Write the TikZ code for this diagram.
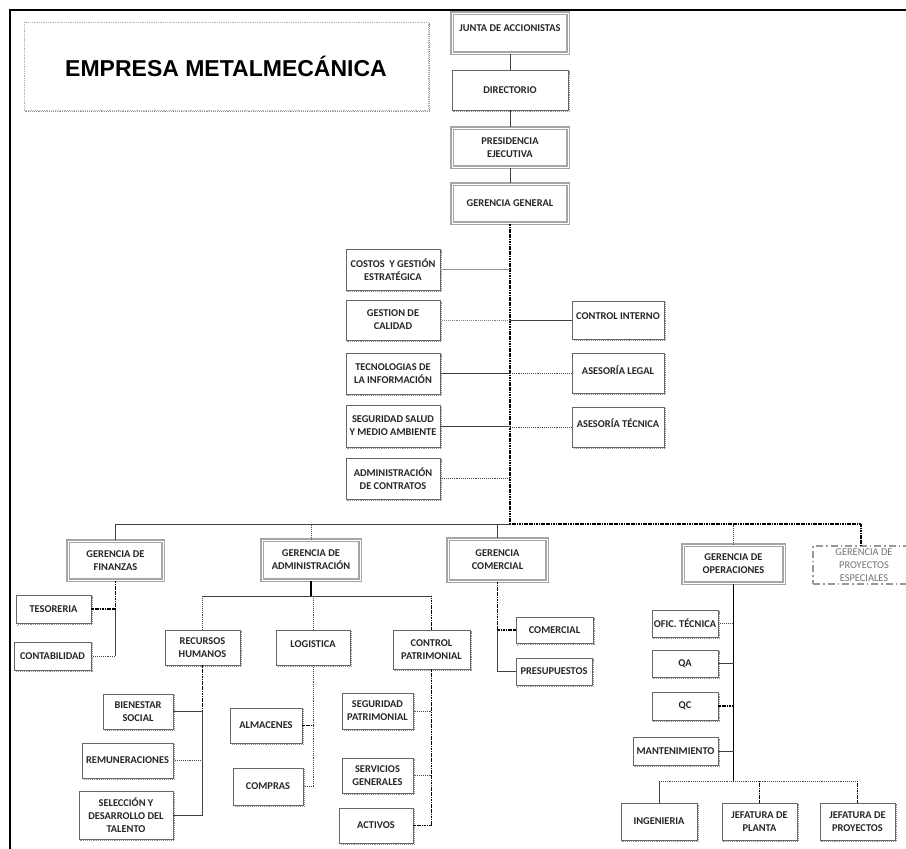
\documentclass[tikz,border=0pt]{standalone}
\usepackage{fontspec}
\setmainfont{Carlito}
\newfontfamily\titlefont{Liberation Sans}
\usetikzlibrary{shadows}
\newcommand\bx[8][]{\node[#2,minimum width={(#6-#4)*1pt},minimum height={(#7-#5)*1pt},#1] (#3) at ({(#4+#6)/2},{(#5+#7)/2}) {#8};}
\newcommand\up[2]{\raisebox{#1}[\height][\depth]{#2}}
\tikzset{
  shd/.style={copy shadow={shadow xshift=1.8pt, shadow yshift=-1.8pt, draw=gray!85, densely dotted, line width=1.1pt, fill=white}},
  nb/.style={shd, draw=black!60, line width=0.7pt, fill=white, align=center, inner sep=0pt, text=black!85,
     font=\fontsize{10.4}{13}\selectfont\bfseries},
  mb/.style={nb, draw=gray!70, line width=1.1pt, double=white, double distance=1pt},
  sl/.style={draw=black!75, line width=0.8pt},
  dl/.style={draw=black!70, line width=0.9pt, densely dotted},
  tk/.style={draw=black, line width=1.5pt, dash pattern=on 1.2pt off 0.5pt},
  bold/.style={draw=black, line width=1.7pt},
}
\begin{document}
\begin{tikzpicture}[x=1pt,y=-1pt]
\useasboundingbox (0,0) rectangle (906,849);
% frame
\draw[line width=2pt] (10,849) -- (10,10) -- (906,10);
% title
\node[shd, draw=gray!60, line width=0.8pt, densely dotted, fill=white, minimum width=404pt, minimum height=88pt,
  font=\titlefont\fontsize{23}{26}\selectfont\bfseries] (title) at (226,66) {EMPRESA METALMECÁNICA};
% top chain
\bx{mb}{ja}{452}{13}{568}{53}{\up{5pt}{JUNTA DE ACCIONISTAS}}
\bx{nb}{di}{452}{70}{568}{110}{DIRECTORIO}
\bx{mb}{pe}{452}{128}{568}{167}{PRESIDENCIA\\EJECUTIVA}
\bx{mb}{gg}{452}{184}{568}{223}{GERENCIA GENERAL}
\draw[sl] (ja.south) -- (di.north);
\draw[sl] (di.south) -- (pe.north);
\draw[sl] (pe.south) -- (gg.north);
\coordinate (bar) at (0,524);
\draw[tk] (gg.south) -- (gg.south |- bar);
% staff left
\bx{nb}{cos}{346}{249}{440}{290}{COSTOS\ \ Y GESTIÓN\\ESTRATÉGICA}
\bx{nb}{cal}{346}{300}{440}{340}{GESTION DE\\CALIDAD}
\bx{nb}{tec}{346}{353}{440}{394}{TECNOLOGIAS DE\\LA INFORMACIÓN}
\bx{nb}{ssm}{346}{405}{440}{447}{SEGURIDAD SALUD\\Y MEDIO AMBIENTE}
\bx{nb}{ac}{346}{458}{440}{499}{ADMINISTRACIÓN\\DE CONTRATOS}
\draw[sl, draw=gray!80] (cos.east) -- (cos.east -| gg.south);
\draw[dl, draw=gray] (cal.east) -- (cal.east -| gg.south);
\draw[sl] (tec.east) -- (tec.east -| gg.south);
\draw[sl] (ssm.east) -- (ssm.east -| gg.south);
\draw[dl] (ac.east) -- (ac.east -| gg.south);
% staff right
\bx{nb}{ci}{572}{301}{664}{339}{\up{4pt}{CONTROL INTERNO}}
\bx{nb}{al}{572}{353}{664}{393}{\up{3pt}{ASESORÍA LEGAL}}
\bx{nb}{at}{572}{407}{664}{447}{\up{4pt}{ASESORÍA TÉCNICA}}
\draw[sl] (ci.west) -- (ci.west -| gg.south);
\draw[dl] (al.west) -- (al.west -| gg.south);
\draw[dl] (at.west) -- (at.west -| gg.south);
% gerencias
\bx{mb}{fin}{68}{541}{163}{580}{GERENCIA DE\\FINANZAS}
\bx{mb}{ga}{262}{540}{360}{580}{GERENCIA DE\\ADMINISTRACIÓN}
\bx{mb}{gc}{448}{539}{547}{581}{GERENCIA\\COMERCIAL}
\bx{mb}{go}{683}{545}{784}{583}{GERENCIA DE\\OPERACIONES}
\node[draw=gray!80, line width=1.2pt, dash pattern=on 7pt off 3pt on 1.5pt off 3pt, fill=white, align=center,
  text=gray!90!black, font=\fontsize{10.4}{13}\selectfont, inner sep=0pt, minimum width=102pt, minimum height=38pt]
  (gpe) at (864,565) {GERENCIA DE\\PROYECTOS\\ESPECIALES};
\coordinate (gpeTop) at (861,546);
\draw[sl] (fin.north |- bar) -- (gg.south |- bar);
\draw[tk] (gg.south |- bar) -- (gpeTop |- bar);
\draw[sl] (fin.north) -- (fin.north |- bar);
\draw[dl] (ga.north) -- (ga.north |- bar);
\draw[sl] (gc.north) -- (gc.north |- bar);
\draw[dl] (go.north) -- (go.north |- bar);
\draw[tk] (gpeTop) -- (gpeTop |- bar);
% finanzas
\bx{nb}{tes}{16}{595}{91}{623}{TESORERIA}
\bx{nb}{con}{14}{642}{91}{670}{CONTABILIDAD}
\draw[tk] (fin.south) -- (fin.south |- tes.east);
\draw[sl] (fin.south |- tes.east) -- (fin.south |- con.east);
\draw[tk] (tes.east) -- (tes.east -| fin.south);
\draw[dl] (con.east) -- (con.east -| fin.south);
% administracion
\coordinate (abar) at (0,596);
\bx{nb}{rh}{165}{630}{240}{665}{RECURSOS\\HUMANOS}
\bx{nb}{lo}{276}{630}{350}{665}{\up{3pt}{LOGISTICA}}
\bx{nb}{cp}{393}{630}{470}{669}{CONTROL\\PATRIMONIAL}
\draw[bold] (ga.south) -- (ga.south |- abar);
\draw[sl] (rh.north |- abar) -- (cp.north |- abar);
\draw[dl] (rh.north) -- (rh.north |- abar);
\draw[dl] (lo.north) -- (lo.north |- abar);
\draw[tk] (cp.north) -- (cp.north |- abar);
\bx{nb}{bs}{103}{694}{173}{729}{BIENESTAR\\SOCIAL}
\bx{nb}{rem}{82}{743}{173}{778}{REMUNERACIONES}
\bx{nb}{sel}{79}{791}{173}{839}{SELECCIÓN Y\\DESARROLLO DEL\\TALENTO}
\draw[tk] (rh.south) -- (rh.south |- bs.east);
\draw[sl] (rh.south |- bs.east) -- (rh.south |- sel.east);
\draw[sl] (bs.east) -- (bs.east -| rh.south);
\draw[dl] (rem.east) -- (rem.east -| rh.south);
\draw[sl] (sel.east) -- (sel.east -| rh.south);
\bx{nb}{alm}{230}{708}{302}{743}{ALMACENES}
\bx{nb}{com}{233}{768}{303}{805}{COMPRAS}
\draw[dl] (lo.south) -- (lo.south |- com.east);
\draw[tk] (alm.east) -- (alm.east -| lo.south);
\draw[dl] (com.east) -- (com.east -| lo.south);
\bx{nb}{sp}{342}{693}{413}{729}{SEGURIDAD\\PATRIMONIAL}
\bx{nb}{sg}{342}{758}{413}{793}{SERVICIOS\\GENERALES}
\bx{nb}{act}{339}{808}{413}{843}{ACTIVOS}
\draw[tk] (cp.south) -- (cp.south |- act.east);
\draw[dl] (sp.east) -- (sp.east -| cp.south);
\draw[dl] (sg.east) -- (sg.east -| cp.south);
\draw[tk] (act.east) -- (act.east -| cp.south);
% comercial
\bx{nb}{cm}{516}{617}{593}{643}{COMERCIAL}
\bx{nb}{pr}{516}{658}{592}{685}{PRESUPUESTOS}
\draw[tk] (gc.south) -- (gc.south |- cm.west);
\draw[sl] (gc.south |- cm.west) -- (gc.south |- pr.west) -- (pr.west);
\draw[tk] (cm.west) -- (cm.west -| gc.south);
% operaciones
\coordinate (obar) at (0,781);
\bx{nb}{of}{652}{610}{718}{637}{OFIC. TÉCNICA}
\bx{nb}{qa}{652}{650}{718}{677}{QA}
\bx{nb}{qc}{652}{692}{718}{720}{QC}
\bx{nb}{man}{633}{737}{718}{765}{MANTENIMIENTO}
\draw[bold] (go.south) -- (go.south |- obar);
\draw[dl] (of.east) -- (of.east -| go.south);
\draw[sl] (qa.east) -- (qa.east -| go.south);
\draw[tk] (qc.east) -- (qc.east -| go.south);
\draw[sl] (man.east) -- (man.east -| go.south);
\bx{nb}{ing}{621}{803}{697}{840}{INGENIERIA}
\bx{nb}{jp}{722}{803}{797}{840}{JEFATURA DE\\PLANTA}
\bx{nb}{jpr}{820}{803}{895}{840}{JEFATURA DE\\PROYECTOS}
\draw[dl] (ing.north |- obar) -- (jpr.north |- obar);
\draw[sl] (ing.north) -- (ing.north |- obar);
\draw[tk] (jp.north) -- (jp.north |- obar);
\draw[tk] (jpr.north) -- (jpr.north |- obar);
\end{tikzpicture}
\end{document}
